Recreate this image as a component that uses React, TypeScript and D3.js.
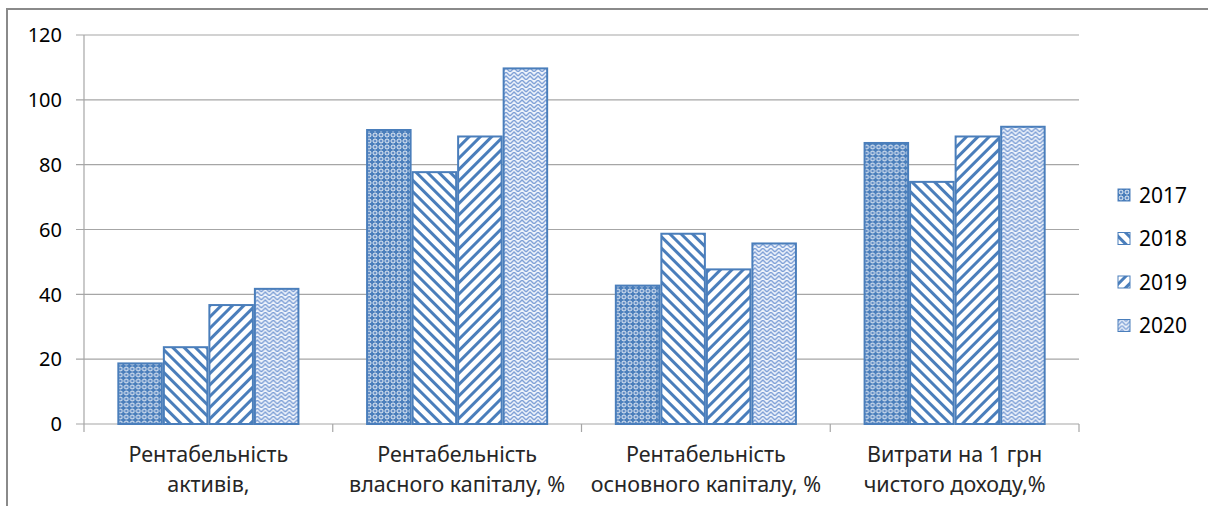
import React, { useEffect, useRef } from 'react';
import * as d3 from 'd3';

const categories = [
  ['Рентабельність', 'активів,'],
  ['Рентабельність', 'власного капіталу, %'],
  ['Рентабельність', 'основного капіталу, %'],
  ['Витрати на 1 грн', 'чистого доходу,%'],
];
const years = ['2017', '2018', '2019', '2020'];
const values = [
  [19, 24, 37, 42],
  [91, 78, 89, 110],
  [43, 59, 48, 56],
  [87, 75, 89, 92],
];
const yTicks = [0, 20, 40, 60, 80, 100, 120];

const BLUE = '#4A7EBB';
const FONT = "'Noto Sans', 'Open Sans', sans-serif";

export default function App() {
  const svgRef = useRef<SVGSVGElement>(null);

  useEffect(() => {
    if (!svgRef.current) return;
    const svg = d3.select(svgRef.current);
    svg.selectAll('*').remove();

    const width = 1208;
    const height = 506;
    const left = 84, right = 1079, top = 35, bottom = 424;

    const x0 = d3.scaleBand<number>()
      .domain(categories.map((_, i) => i))
      .range([left, right])
      .paddingInner(0.268)
      .paddingOuter(0.134);
    const bandStep = (right - left) / categories.length;
    const x1 = d3.scaleBand<string>().domain(years).range([0, x0.bandwidth()]);
    const y = d3.scaleLinear().domain([0, 120]).range([bottom, top]);

    // patterns
    const defs = svg.append('defs');
    const p0 = defs.append('pattern').attr('id', 'p2017').attr('patternUnits', 'userSpaceOnUse')
      .attr('width', 6).attr('height', 6);
    p0.append('rect').attr('width', 6).attr('height', 6).attr('fill', BLUE);
    p0.append('circle').attr('cx', 3).attr('cy', 3).attr('r', 2).attr('fill', 'none')
      .attr('stroke', '#fff').attr('stroke-width', 0.9);
    p0.append('circle').attr('cx', 3).attr('cy', 3).attr('r', 0.8).attr('fill', '#7f9fd3');

    const p1 = defs.append('pattern').attr('id', 'p2018').attr('patternUnits', 'userSpaceOnUse')
      .attr('width', 8).attr('height', 8).attr('patternTransform', 'rotate(-45)');
    p1.append('rect').attr('width', 8).attr('height', 8).attr('fill', '#fff');
    p1.append('rect').attr('width', 3).attr('height', 8).attr('fill', BLUE);

    const p2 = defs.append('pattern').attr('id', 'p2019').attr('patternUnits', 'userSpaceOnUse')
      .attr('width', 8).attr('height', 8).attr('patternTransform', 'rotate(45)');
    p2.append('rect').attr('width', 8).attr('height', 8).attr('fill', '#fff');
    p2.append('rect').attr('width', 3).attr('height', 8).attr('fill', BLUE);

    const p3 = defs.append('pattern').attr('id', 'p2020').attr('patternUnits', 'userSpaceOnUse')
      .attr('width', 8).attr('height', 8);
    p3.append('rect').attr('width', 8).attr('height', 8).attr('fill', '#eef3fb');
    p3.append('path').attr('d', 'M0,4 L4,0 L8,4 M0,8 L4,4 L8,8')
      .attr('fill', 'none').attr('stroke', '#7d9fd6').attr('stroke-width', 1.4);
    const fills = ['url(#p2017)', 'url(#p2018)', 'url(#p2019)', 'url(#p2020)'];

    // outer frame
    svg.append('path').attr('d', `M7,${height} L7,9 L${width},9`)
      .attr('fill', 'none').attr('stroke', '#8a8a8a').attr('stroke-width', 2);

    // gridlines
    svg.append('g').selectAll('line').data(yTicks).join('line')
      .attr('x1', left - 8).attr('x2', right)
      .attr('y1', d => y(d)).attr('y2', d => y(d))
      .attr('stroke', '#a6a6a6').attr('stroke-width', 1.2);
    svg.append('line').attr('x1', left).attr('x2', left).attr('y1', top).attr('y2', bottom)
      .attr('stroke', '#a6a6a6').attr('stroke-width', 1.2);
    svg.append('g').selectAll('line').data(d3.range(categories.length + 1)).join('line')
      .attr('x1', d => left + d * bandStep).attr('x2', d => left + d * bandStep)
      .attr('y1', bottom).attr('y2', bottom + 8)
      .attr('stroke', '#a6a6a6').attr('stroke-width', 1.2);

    svg.append('g').selectAll('text').data(yTicks).join('text')
      .attr('x', 62).attr('y', d => y(d)).attr('dy', '0.36em')
      .attr('text-anchor', 'end').attr('font-family', FONT).attr('font-size', 20)
      .attr('fill', '#000').text(d => d);

    // bars
    const groups = svg.append('g').selectAll('g').data(values).join('g')
      .attr('transform', (_, i) => `translate(${x0(i)},0)`);
    groups.selectAll('rect').data(d => d.map((v, j) => ({ v, j }))).join('rect')
      .attr('x', d => x1(years[d.j])! + 1)
      .attr('width', x1.bandwidth() - 2)
      .attr('y', d => y(d.v) + 1)
      .attr('height', d => y(0) - y(d.v) - 1)
      .attr('fill', d => fills[d.j])
      .attr('stroke', BLUE).attr('stroke-width', 2);

    // category labels
    const labels = svg.append('g').selectAll('text').data(categories).join('text')
      .attr('text-anchor', 'middle').attr('font-family', FONT).attr('font-size', 21.5)
      .attr('fill', '#262626');
    labels.each(function (d, i) {
      const t = d3.select(this);
      const cx = left + (i + 0.5) * bandStep;
      d.forEach((line, k) => {
        t.append('tspan').attr('x', cx).attr('y', 462 + k * 30).text(line);
      });
    });

    // legend
    const lg = svg.append('g').selectAll('g').data(years).join('g')
      .attr('transform', (_, i) => `translate(1118,${195 + i * 43.5})`);
    lg.append('rect').attr('x', 0).attr('y', -6).attr('width', 12).attr('height', 12)
      .attr('fill', (_, i) => fills[i]).attr('stroke', BLUE).attr('stroke-width', 1);
    lg.append('text').attr('x', 21).attr('y', 0).attr('dy', '0.36em')
      .attr('font-family', FONT).attr('font-size', 21).attr('fill', '#000')
      .text(d => d);
  }, []);

  return (
    <svg ref={svgRef} width={1208} height={506}
      style={{ position: 'absolute', left: 0, top: 0, background: '#fff' }} />
  );
}
